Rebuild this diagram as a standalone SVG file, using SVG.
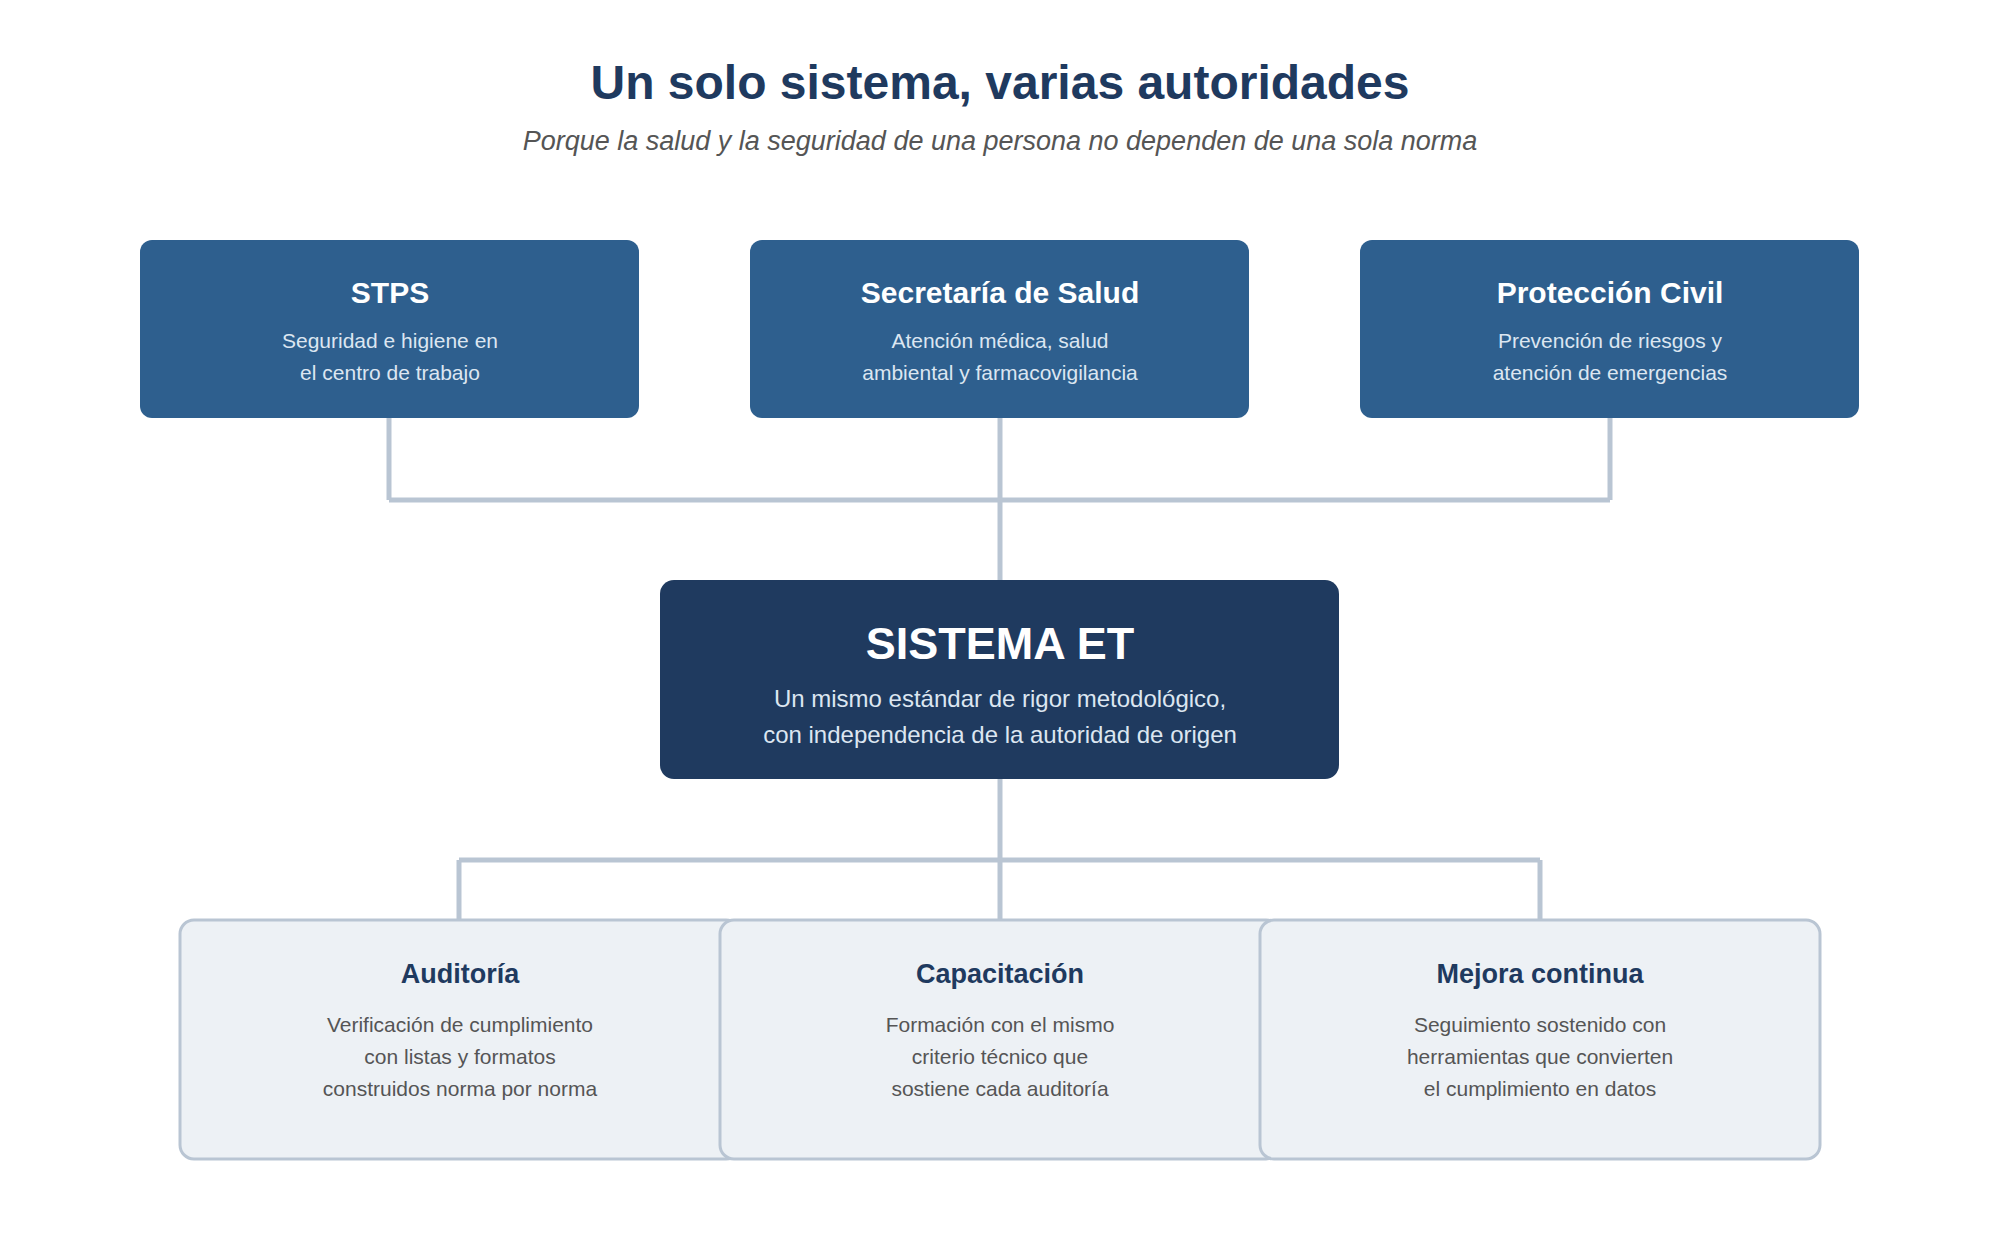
<svg xmlns="http://www.w3.org/2000/svg" width="2000" height="1240" viewBox="0 0 2000 1240">
<style>
text{font-family:"Liberation Sans",Arial,sans-serif;text-anchor:middle}
.top{fill:#2e5f8e}
.tt{fill:#fff;font-size:30px;font-weight:bold}
.ts{fill:#dce6f1;font-size:21px}
.bot{fill:#edf1f5;stroke:#b9c5d3;stroke-width:3}
.bt{fill:#1f3a5f;font-size:27px;font-weight:bold}
.bs{fill:#555;font-size:21px}
.c{stroke:#b9c5d3;stroke-width:5;fill:none}
</style>
<rect width="2000" height="1240" fill="#fff"/>
<text x="1000" y="99" font-size="48" font-weight="bold" fill="#1f3a5f">Un solo sistema, varias autoridades</text>
<text x="1000" y="150" font-size="27" font-style="italic" fill="#555">Porque la salud y la seguridad de una persona no dependen de una sola norma</text>
<g id="connectors">
<path class="c" d="M389 418V500M1000 418V580M1610 418V500M389 500H1610"/>
<path class="c" d="M1000 779V919M459 860H1540M459 860V919M1540 860V919"/>
</g>
<g id="stps"><rect class="top" x="140" y="240" width="499" height="178" rx="12"/>
<text class="tt" x="390" y="303">STPS</text>
<text class="ts" x="390" y="348">Seguridad e higiene en</text><text class="ts" x="390" y="380">el centro de trabajo</text></g>
<g id="salud"><rect class="top" x="750" y="240" width="499" height="178" rx="12"/>
<text class="tt" x="1000" y="303">Secretaría de Salud</text>
<text class="ts" x="1000" y="348">Atención médica, salud</text><text class="ts" x="1000" y="380">ambiental y farmacovigilancia</text></g>
<g id="pc"><rect class="top" x="1360" y="240" width="499" height="178" rx="12"/>
<text class="tt" x="1610" y="303">Protección Civil</text>
<text class="ts" x="1610" y="348">Prevención de riesgos y</text><text class="ts" x="1610" y="380">atención de emergencias</text></g>
<g id="sistema"><rect x="660" y="580" width="679" height="199" rx="14" fill="#1f3a5f"/>
<text x="1000" y="659" font-size="45" font-weight="bold" fill="#fff">SISTEMA ET</text>
<text x="1000" y="707" font-size="24" fill="#dce6f1">Un mismo estándar de rigor metodológico,</text>
<text x="1000" y="743" font-size="24" fill="#dce6f1">con independencia de la autoridad de origen</text></g>
<g id="auditoria"><rect class="bot" x="180" y="920" width="560" height="239" rx="14"/>
<text class="bt" x="460" y="983">Auditoría</text>
<text class="bs" x="460" y="1032">Verificación de cumplimiento</text><text class="bs" x="460" y="1064">con listas y formatos</text><text class="bs" x="460" y="1096">construidos norma por norma</text></g>
<g id="capacitacion"><rect class="bot" x="720" y="920" width="560" height="239" rx="14"/>
<text class="bt" x="1000" y="983">Capacitación</text>
<text class="bs" x="1000" y="1032">Formación con el mismo</text><text class="bs" x="1000" y="1064">criterio técnico que</text><text class="bs" x="1000" y="1096">sostiene cada auditoría</text></g>
<g id="mejora"><rect class="bot" x="1260" y="920" width="560" height="239" rx="14"/>
<text class="bt" x="1540" y="983">Mejora continua</text>
<text class="bs" x="1540" y="1032">Seguimiento sostenido con</text><text class="bs" x="1540" y="1064">herramientas que convierten</text><text class="bs" x="1540" y="1096">el cumplimiento en datos</text></g>
</svg>
